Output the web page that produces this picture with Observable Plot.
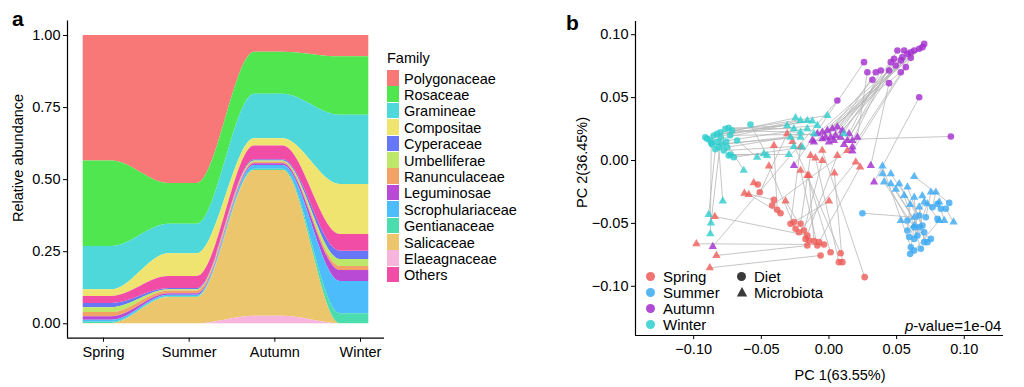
<!DOCTYPE html>
<html><head><meta charset="utf-8">
<script src="https://cdn.jsdelivr.net/npm/d3@7"></script>
<script src="https://cdn.jsdelivr.net/npm/@observablehq/plot@0.6"></script>
<style>
body{margin:0;background:#fff;font-family:"Liberation Sans",Arial,sans-serif;}
#wrap{position:relative;width:1024px;height:387px;overflow:hidden;background:#fff;}
.abs{position:absolute;white-space:nowrap;color:#000;line-height:1;}
.panel{position:absolute;top:0;}
</style></head><body><div id="wrap"></div>
<script>
// ---------- Panel a data ----------
const seasons = ["Spring", "Summer", "Autumn", "Winter"];
const families = ["Polygonaceae","Rosaceae","Gramineae","Compositae","Cyperaceae","Umbelliferae","Ranunculaceae","Leguminosae","Scrophulariaceae","Gentianaceae","Salicaceae","Elaeagnaceae","Others"];
const familyColors = ["#F87878","#50E650","#4ED8DA","#EFE470","#6677F7","#BEE86A","#F2A266","#B94AD6","#4CBDFA","#4BDDAE","#ECC66C","#F7B5DD","#F24DA6"];
// stacking order, bottom to top
const stackOrder = ["Elaeagnaceae","Salicaceae","Gentianaceae","Scrophulariaceae","Leguminosae","Ranunculaceae","Umbelliferae","Cyperaceae","Others","Compositae","Gramineae","Rosaceae","Polygonaceae"];
// relative abundance per season, in `families` order
const springAbund = [0.435,0.297,0.150,0.023,0.014,0.017,0.015,0.012,0.007,0.004,0.001,0.000,0.025];
const summerAbund = [0.513,0.142,0.102,0.079,0.004,0.004,0.010,0.005,0.005,0.003,0.091,0.000,0.042];
const autumnAbund = [0.058,0.146,0.154,0.025,0.004,0.005,0.005,0.006,0.013,0.004,0.506,0.026,0.048];
const winterAbund = [0.074,0.203,0.240,0.173,0.029,0.024,0.014,0.038,0.112,0.035,0.000,0.000,0.058];
const yTicksA = [0, 0.25, 0.5, 0.75, 1];

// ---------- Panel b data ([PC1, PC2]) ----------
const seasonColors = ["#EE5B57","#39A9F2","#A32CCF","#2ECDCD"];
const springDiet = [[-0.0526,-0.0191],[-0.0511,-0.0252],[-0.0407,-0.0313],[-0.0420,-0.0358],[-0.0383,-0.0392],[-0.0358,-0.0419],[-0.0284,-0.0503],[-0.0259,-0.0490],[-0.0210,-0.0503],[-0.0247,-0.0543],[-0.0222,-0.0570],[-0.0185,-0.0556],[-0.0160,-0.0596],[-0.0173,-0.0623],[-0.0148,-0.0636],[-0.0111,-0.0641],[-0.0074,-0.0649],[-0.0037,-0.0668],[-0.0160,-0.0676],[-0.0086,-0.0676],[0.0012,-0.0729],[0.0086,-0.0737],[-0.0062,-0.0755],[0.0074,-0.0808],[0.0099,-0.0808],[0.0264,-0.0927]];
const springMicro = [[-0.0556,-0.0177],[-0.0309,0.0212],[-0.0625,-0.0260],[0.0136,0.0079],[-0.0407,0.0119],[-0.0593,-0.0270],[-0.0210,0.0106],[0.0000,-0.0323],[-0.0136,0.0040],[-0.0444,-0.0045],[0.0198,-0.0013],[-0.0049,0.0000],[-0.0844,-0.0445],[0.0062,0.0040],[-0.0321,-0.0323],[-0.0148,-0.0119],[0.0230,-0.0053],[-0.0980,-0.0662],[-0.0832,-0.0755],[-0.0210,-0.0079],[-0.0160,-0.0119],[-0.0270,0.0150],[-0.0881,-0.0853],[-0.0100,0.0020],[0.0040,-0.0100],[-0.0050,0.0080]];
const summerDiet = [[0.0247,-0.0419],[0.0580,-0.0477],[0.0667,-0.0437],[0.0716,-0.0451],[0.0765,-0.0371],[0.0802,-0.0345],[0.0827,-0.0384],[0.0864,-0.0384],[0.0889,-0.0337],[0.0630,-0.0530],[0.0667,-0.0530],[0.0691,-0.0517],[0.0704,-0.0570],[0.0654,-0.0596],[0.0593,-0.0609],[0.0630,-0.0623],[0.0704,-0.0649],[0.0753,-0.0623],[0.0605,-0.0689],[0.0630,-0.0716],[0.0600,-0.0742],[0.0679,-0.0702],[0.0728,-0.0649],[0.0802,-0.0464],[0.0580,-0.0556]];
const summerMicro = [[0.0630,-0.0451],[0.0395,-0.0106],[0.0457,-0.0106],[0.0753,-0.0252],[0.0790,-0.0252],[0.0815,-0.0331],[0.0852,-0.0477],[0.0921,-0.0490],[0.0630,-0.0127],[0.0407,-0.0172],[0.0457,-0.0185],[0.0519,-0.0185],[0.0580,-0.0212],[0.0630,-0.0292],[0.0704,-0.0331],[0.0728,-0.0344],[0.0667,-0.0371],[0.0531,-0.0477],[0.0395,-0.0045],[0.0815,-0.0477],[0.0630,-0.0517],[0.0556,-0.0278],[0.0494,-0.0230],[0.0690,-0.0280],[0.0600,-0.0350]];
const autumnDiet = [[0.0704,0.0927],[0.0691,0.0901],[0.0667,0.0888],[0.0630,0.0874],[0.0605,0.0861],[0.0580,0.0848],[0.0556,0.0874],[0.0506,0.0874],[0.0543,0.0821],[0.0531,0.0795],[0.0481,0.0808],[0.0457,0.0782],[0.0494,0.0755],[0.0605,0.0816],[0.0568,0.0742],[0.0531,0.0702],[0.0444,0.0715],[0.0383,0.0715],[0.0346,0.0702],[0.0284,0.0702],[0.0321,0.0641],[0.0444,0.0615],[0.0259,0.0782],[0.0667,0.0503],[0.0062,0.0477],[0.0901,0.0191]];
const autumnMicro = [[-0.0049,0.0225],[-0.0012,0.0238],[0.0025,0.0252],[0.0062,0.0265],[0.0099,0.0238],[0.0012,0.0185],[0.0049,0.0199],[0.0086,0.0185],[-0.0025,0.0185],[0.0037,0.0159],[0.0136,0.0159],[0.0173,0.0159],[0.0111,0.0127],[0.0173,0.0106],[0.0173,0.0074],[-0.0111,0.0146],[-0.0086,0.0212],[0.0148,0.0212],[0.0000,0.0146],[0.0210,0.0185],[-0.0049,0.0172],[0.0309,-0.0040],[-0.0259,-0.0040],[0.0333,-0.0172],[-0.0859,-0.0684],[-0.0123,0.0160]];
const winterDiet = [[-0.0914,0.0185],[-0.0901,0.0172],[-0.0877,0.0159],[-0.0852,0.0199],[-0.0827,0.0212],[-0.0802,0.0225],[-0.0765,0.0252],[-0.0741,0.0260],[-0.0716,0.0238],[-0.0827,0.0146],[-0.0790,0.0127],[-0.0753,0.0106],[-0.0864,0.0127],[-0.0778,0.0079],[-0.0728,0.0048],[-0.0704,0.0026],[-0.0741,0.0040],[-0.0580,0.0286],[-0.0679,0.0159],[-0.0815,0.0106],[-0.0840,0.0090],[-0.0800,0.0180],[-0.0870,0.0140],[-0.0760,0.0150],[-0.0730,0.0200]];
const winterMicro = [[-0.0247,0.0339],[-0.0210,0.0318],[-0.0160,0.0318],[-0.0123,0.0313],[-0.0086,0.0278],[-0.0012,0.0358],[-0.0309,0.0278],[-0.0259,0.0252],[-0.0210,0.0225],[-0.0160,0.0252],[-0.0111,0.0212],[-0.0284,0.0185],[-0.0210,0.0185],[-0.0259,0.0111],[-0.0296,0.0048],[-0.0198,0.0106],[-0.0481,0.0053],[-0.0457,0.0040],[-0.0531,0.0026],[-0.0785,-0.0323],[-0.0889,-0.0429],[-0.0872,-0.0498],[-0.0877,-0.0583],[-0.0630,-0.0079],[0.0111,0.0212]];
const pcTicks = [-0.10, -0.05, 0, 0.05, 0.10];
const shapeLabels = ["Diet", "Microbiota"];

// ---------- build panel a ----------
const FONT = "Liberation Sans, Arial, sans-serif";
const wrap = document.getElementById("wrap");
const seasonAbund = [springAbund, summerAbund, autumnAbund, winterAbund];
const rowsA = [];
seasonAbund.forEach((vals, i) => {
  for (const off of [-1/6, 1/6]) {
    families.forEach((f, j) => rowsA.push({x: i + 1 + off, family: f, value: vals[j]}));
  }
});
const plotA = Plot.plot({
  width: 390, height: 387,
  marginLeft: 67, marginRight: 6, marginTop: 20.6, marginBottom: 49.3,
  style: {fontFamily: FONT, fontSize: "14px", color: "#000", background: "transparent", overflow: "visible"},
  x: {domain: [0.65, 4.35], axis: null},
  y: {domain: [-0.05, 1.05], axis: null},
  color: {domain: families, range: familyColors},
  marks: [
    Plot.areaY(rowsA, {x: "x", y: "value", z: "family", fill: "family", order: stackOrder, curve: "monotone-x"}),
    Plot.axisY({ticks: yTicksA, tickFormat: d3.format(".2f"), tickSize: 4, tickPadding: 3, label: null, fontSize: 14.5, stroke: "#000"}),
    Plot.axisX({ticks: [1,2,3,4], tickFormat: d => seasons[d-1], tickSize: 4, tickPadding: 5, label: null, fontSize: 14.5, dx: 6}),
    Plot.ruleX([0.65], {stroke: "#000", strokeWidth: 1.2}),
    Plot.ruleY([-0.05], {stroke: "#000", strokeWidth: 1.2})
  ]
});
plotA.classList.add("panel"); plotA.style.left = "0px";
wrap.appendChild(plotA);

// ---------- build panel b ----------
const diet = [], micro = [], pairs = [];
const sets = [[springDiet, springMicro], [summerDiet, summerMicro], [autumnDiet, autumnMicro], [winterDiet, winterMicro]];
sets.forEach(([D, M], i) => {
  D.forEach(p => diet.push({x: p[0], y: p[1], season: seasons[i]}));
  M.forEach(p => micro.push({x: p[0], y: p[1], season: seasons[i]}));
  const n = Math.min(D.length, M.length);
  for (let k = 0; k < n; k++) pairs.push({x1: D[k][0], y1: D[k][1], x2: M[k][0], y2: M[k][1]});
});
const plotB = Plot.plot({
  width: 464, height: 387,
  marginLeft: 75, marginRight: 21, marginTop: 21, marginBottom: 52,
  style: {fontFamily: FONT, fontSize: "14px", color: "#000", background: "transparent", overflow: "visible"},
  x: {domain: [-0.143, 0.129], axis: null},
  y: {domain: [-0.1391, 0.1105], axis: null},
  color: {domain: seasons, range: seasonColors},
  marks: [
    Plot.link(pairs, {x1: "x1", y1: "y1", x2: "x2", y2: "y2", stroke: "#b8b8b8", strokeWidth: 0.8}),
    Plot.dot(diet, {x: "x", y: "y", fill: "season", r: 3.3, symbol: "circle", fillOpacity: 0.8}),
    Plot.dot(micro, {x: "x", y: "y", fill: "season", r: 3.1, symbol: "triangle", fillOpacity: 0.8}),
    Plot.axisY({ticks: pcTicks, tickFormat: d3.format(".2f"), tickSize: 4, tickPadding: 3, label: null, fontSize: 14.5}),
    Plot.axisX({ticks: pcTicks, tickFormat: d3.format(".2f"), tickSize: 4, tickPadding: 4, label: null, fontSize: 14.5}),
    Plot.ruleX([-0.143], {stroke: "#000", strokeWidth: 1.2}),
    Plot.ruleY([-0.1391], {stroke: "#000", strokeWidth: 1.2})
  ]
});
plotB.classList.add("panel"); plotB.style.left = "560px";
wrap.appendChild(plotB);

// ---------- text and legends ----------
function addText(txt, left, top, opts = {}) {
  const d = document.createElement("div");
  d.className = "abs";
  d.innerHTML = txt;
  d.style.left = left + "px"; d.style.top = top + "px";
  d.style.fontSize = (opts.size || 14.5) + "px";
  if (opts.bold) d.style.fontWeight = "bold";
  if (opts.transform) d.style.transform = opts.transform;
  if (opts.anchor) d.style.transformOrigin = opts.anchor;
  wrap.appendChild(d);
  return d;
}
addText("a", 12, 8, {size: 21, bold: true});
addText("b", 566, 12, {size: 21, bold: true});
// axis titles
const t1 = addText("Relative abundance", 0, 0, {size: 14.5});
t1.style.left = "11px"; t1.style.top = "162px";
t1.style.transform = "translate(0,0) rotate(-90deg)"; t1.style.transformOrigin = "0 0";
t1.style.top = (158 + t1.offsetWidth / 2) + "px";
const t2 = addText("PC 2(36.45%)", 575, 0, {size: 14.5});
t2.style.transform = "rotate(-90deg)"; t2.style.transformOrigin = "0 0";
t2.style.top = (162 + t2.offsetWidth / 2) + "px";
const t3 = addText("PC 1(63.55%)", 0, 368, {size: 14.5});
t3.style.left = (840 - t3.offsetWidth / 2) + "px";

// Family legend
addText("Family", 387, 51, {size: 14.5});
families.forEach((f, k) => {
  const yTop = 70 + 16.4 * k;
  const sw = document.createElement("div");
  sw.style.cssText = `position:absolute;left:387px;top:${yTop}px;width:12px;height:15.6px;background:${familyColors[k]};`;
  wrap.appendChild(sw);
  addText(f, 404, yTop + 1.5, {size: 14.5});
});

// Season legend (panel b)
seasons.forEach((s, k) => {
  const cy = [276.7, 292.7, 308.7, 324.7][k];
  const c = document.createElement("div");
  c.style.cssText = `position:absolute;left:${650.7-4.8}px;top:${cy-4.8}px;width:9.6px;height:9.6px;border-radius:50%;background:${seasonColors[k]};opacity:0.85;`;
  wrap.appendChild(c);
  addText(s, 663, cy - 7.5, {size: 15});
});
// shape legend
{
  const c = document.createElement("div");
  c.style.cssText = `position:absolute;left:${741.7-4.6}px;top:${276.7-4.6}px;width:9.2px;height:9.2px;border-radius:50%;background:#3a3a3a;`;
  wrap.appendChild(c);
  const svgNS = "http://www.w3.org/2000/svg";
  const s = document.createElementNS(svgNS, "svg");
  s.setAttribute("width", 12); s.setAttribute("height", 12);
  s.style.cssText = `position:absolute;left:${741.7-6}px;top:${292.7-6.5}px;`;
  const p = document.createElementNS(svgNS, "path");
  p.setAttribute("d", "M6,1 L11.2,10.5 L0.8,10.5 Z");
  p.setAttribute("fill", "#3a3a3a");
  s.appendChild(p); wrap.appendChild(s);
  addText(shapeLabels[0], 754, 276.7 - 7.5, {size: 15});
  addText(shapeLabels[1], 754, 292.7 - 7.5, {size: 15});
}
const pv = addText("<i>p</i>-value=1e-04", 0, 318, {size: 15});
pv.style.left = (1001 - pv.offsetWidth) + "px";
</script></body></html>
